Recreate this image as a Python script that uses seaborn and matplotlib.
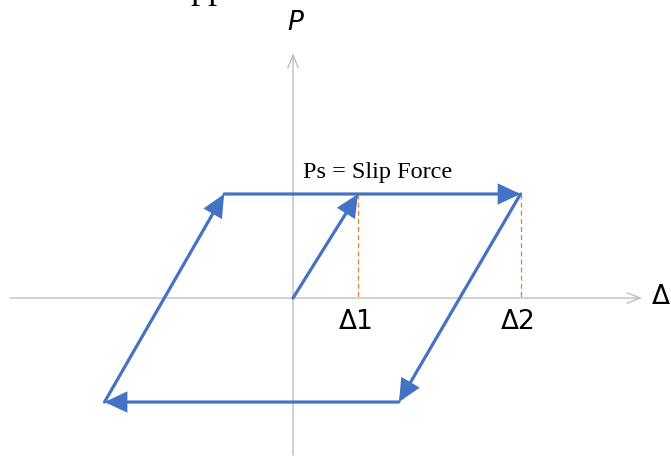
import matplotlib
matplotlib.use("Agg")
import matplotlib.pyplot as plt
import pandas as pd
import seaborn as sns

# hysteresis loop of a slip connection (force in units of Ps, displacement in units of delta1)
ps = 1.0
delta1 = 1.0
delta2 = 3.5
# the loop, one entry per drawn segment: start point -> end point
seg_x0 = [0.0, -1.06, delta2, 1.63, -2.9]
seg_y0 = [0.0, ps, ps, -ps, -ps]
seg_x1 = [delta1, delta2, 1.63, -2.9, -1.06]
seg_y1 = [ps, ps, -ps, -ps, ps]

guide_x = [delta1, delta2]
guide_labels = ["\u03941", "\u03942"]
slip_label = "Ps = Slip Force"

blue = "#4472C4"
orange = "#ED7D31"
grey = "#BFBFBF"

sns.set_theme(style="white")
plt.rcParams["font.family"] = ["DejaVu Sans"]

fig = plt.figure(figsize=(6.71, 4.58), dpi=100)
ax = fig.add_axes([0, 0, 1, 1])
ax.set_xlim(-4.508, 5.815)
ax.set_ylim(-1.538, 2.865)
ax.set_axis_off()

# axes with open arrow heads
ax_arrow = dict(arrowstyle="->,head_length=0.55,head_width=0.22", mutation_scale=17,
                color=grey, lw=1.0, shrinkA=0, shrinkB=0)
ax.annotate("", xy=(5.37, 0), xytext=(-4.35, 0), arrowprops=ax_arrow)
ax.annotate("", xy=(0, 2.356), xytext=(0, -1.51), arrowprops=ax_arrow)

# dashed guides from the slip level down to the displacement axis
guides = pd.DataFrame({
    "x": [v for v in guide_x for _ in range(2)],
    "y": [ps, 0.0] * len(guide_x),
    "g": [i for i in range(len(guide_x)) for _ in range(2)],
})
sns.lineplot(data=guides, x="x", y="y", units="g", estimator=None, sort=False,
             color=orange, lw=0.9, linestyle=(0, (4, 2.5)), ax=ax, legend=False)

# loop segments with filled arrow heads
loop_arrow = dict(arrowstyle="-|>,head_length=0.6,head_width=0.28", mutation_scale=21,
                  color=blue, lw=2.3, shrinkA=0, shrinkB=0, joinstyle="miter")
for x0, y0, x1, y1 in zip(seg_x0, seg_y0, seg_x1, seg_y1):
    ax.annotate("", xy=(x1, y1), xytext=(x0, y0), arrowprops=loop_arrow)

ax.text(0.15, 1.21, slip_label, family="Liberation Serif", fontsize=17.5,
        ha="left", va="center", color="black")
for gx, lab in zip(guide_x, guide_labels):
    ax.text(gx - 0.03, -0.23, lab, fontsize=19, ha="center", va="center", color="black")

ax.text(5.52, 0.01, "\u0394", fontsize=19, ha="left", va="center", color="black")
ax.text(0.03, 2.644, "P", fontsize=19, style="italic", ha="center", va="center", color="black")
# cut-off text at the very top, as in the source image
ax.text(-1.585, 2.885, "pp", family="Liberation Serif", fontsize=26,
        ha="left", va="baseline", color="black", clip_on=False)

fig.savefig("out.png", dpi=100)
